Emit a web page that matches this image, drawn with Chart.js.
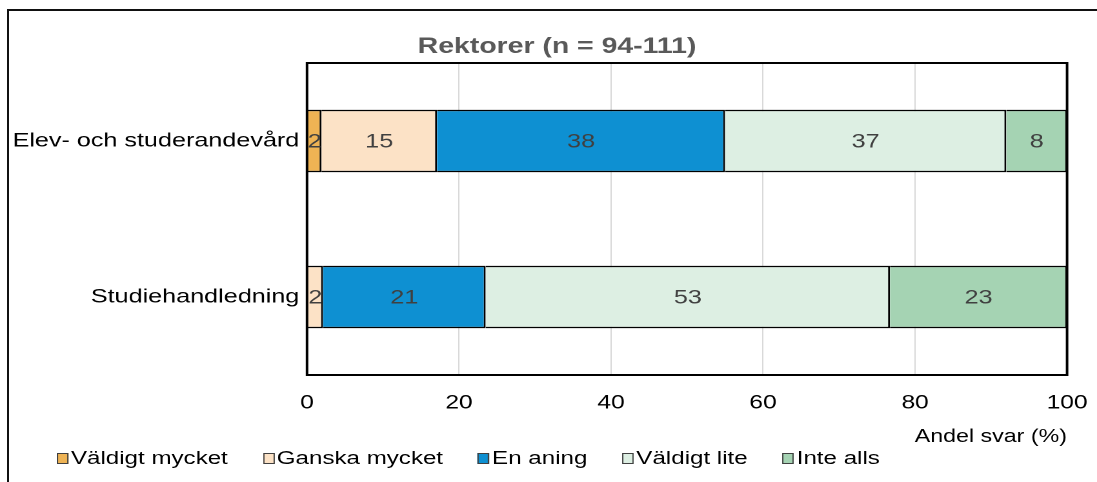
<!DOCTYPE html>
<html>
<head>
<meta charset="utf-8">
<script src="https://cdn.jsdelivr.net/npm/chart.js@4"></script>
<style>
  html, body { margin: 0; padding: 0; background: #fff; overflow: hidden; }
  #frame { position: absolute; left: 7px; top: 9px; width: 1300px; height: 700px;
           border-top: 2px solid #111; border-left: 2px solid #111; }
  #wrap { position: absolute; left: 0; top: 0; width: 850px; height: 482px;
          transform: scaleX(1.2906); transform-origin: 0 0; }
  #legend { position: absolute; left: 44px; top: 447px; display: flex; gap: 27px;
            font: 18.7px "Liberation Sans", Arial, sans-serif; line-height: 22px; color: #000; }
  #legend span.item { display: flex; align-items: center; white-space: nowrap; }
  #legend span.box { display: inline-block; width: 7px; height: 9px; border: 1px solid #404040;
                     margin-right: 2px; }
</style>
</head>
<body>
<div id="frame"></div>
<div id="wrap">
  <canvas id="chart" width="850" height="482"></canvas>
  <div id="legend"></div>
</div>
<script>
const titleText = 'Rektorer (n = 94-111)';
const axisTitle = 'Andel svar (%)';
const categories = ['Elev- och studerandevård', 'Studiehandledning'];
const seriesNames = ['Väldigt mycket', 'Ganska mycket', 'En aning', 'Väldigt lite', 'Inte alls'];
const valdigtMycket = [1.9, 0];
const ganskaMycket = [15.2, 2.1];
const enAning = [37.9, 21.4];
const valdigtLite = [37.0, 53.2];
const inteAlls = [8.0, 23.3];
const seriesColors = ['#EEB354', '#FCE2C6', '#0E90D2', '#DDEFE3', '#A5D3B3'];

const FONT = '"Liberation Sans", Arial, sans-serif';
const seriesValues = [valdigtMycket, ganskaMycket, enAning, valdigtLite, inteAlls];

// value labels in the middle of each segment + plot frame + title
const extras = {
    id: 'extras',
    afterDatasetsDraw(chart) {
        const ctx = chart.ctx;
        ctx.save();
        ctx.font = '19.5px ' + FONT;
        ctx.fillStyle = '#404040';
        ctx.textAlign = 'center';
        ctx.textBaseline = 'middle';
        chart.data.datasets.forEach((ds, i) => {
            chart.getDatasetMeta(i).data.forEach((bar, j) => {
                const v = ds.data[j];
                if (!v) return;
                ctx.fillText(String(Math.round(v)), (bar.x + bar.base) / 2, bar.y + 1);
            });
        });
        const a = chart.chartArea;
        ctx.strokeStyle = '#000';
        ctx.lineWidth = 2;
        ctx.strokeRect(a.left, a.top, a.right - a.left, a.bottom - a.top);
        ctx.font = 'bold 22px ' + FONT;
        ctx.fillStyle = '#595959';
        ctx.fillText(titleText, 431.6, 47);
        ctx.restore();
    }
};

const chart = new Chart(document.getElementById('chart'), {
    type: 'bar',
    data: {
        labels: categories,
        datasets: seriesNames.map((name, i) => ({
            label: name,
            data: seriesValues[i],
            backgroundColor: seriesColors[i],
            borderColor: '#000',
            borderWidth: 1.5,
            barPercentage: 0.4,
            categoryPercentage: 1
        }))
    },
    options: {
        indexAxis: 'y',
        responsive: false,
        devicePixelRatio: 2,
        animation: false,
        layout: { padding: { top: 63, right: 23.2, left: 0, bottom: 0 } },
        plugins: { legend: { display: false }, title: { display: false }, tooltip: { enabled: false } },
        scales: {
            x: {
                stacked: true, min: 0, max: 100,
                ticks: { stepSize: 20, padding: 17, color: '#000', font: { family: FONT, size: 19 } },
                grid: { color: '#d9d9d9', lineWidth: 1, drawTicks: false },
                border: { display: false },
                title: { display: true, text: axisTitle, align: 'end', color: '#000',
                         font: { family: FONT, size: 18 }, padding: { top: 0, bottom: 34 } },
                afterFit(s) { s.height = 107; s.paddingLeft = 0; s.paddingRight = 0; }
            },
            y: {
                stacked: true,
                ticks: { padding: 6, color: '#000', font: { family: FONT, size: 19.5 } },
                grid: { display: false, drawTicks: false },
                border: { display: false },
                afterFit(s) { s.width = 237.9; }
            }
        }
    },
    plugins: [extras]
});

const legend = document.getElementById('legend');
seriesNames.forEach((name, i) => {
    const item = document.createElement('span');
    item.className = 'item';
    const box = document.createElement('span');
    box.className = 'box';
    box.style.background = seriesColors[i];
    item.appendChild(box);
    item.appendChild(document.createTextNode(name));
    legend.appendChild(item);
});
</script>
</body>
</html>
